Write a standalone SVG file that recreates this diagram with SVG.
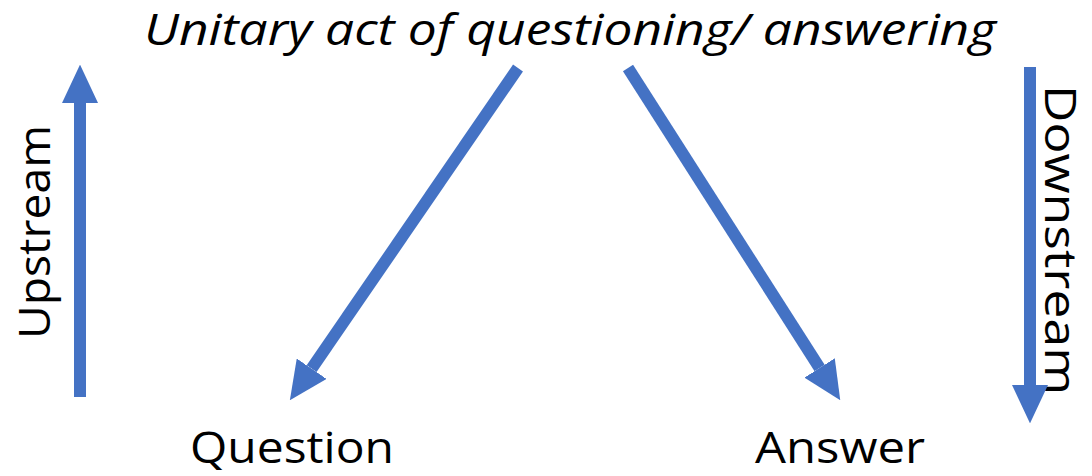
<svg xmlns="http://www.w3.org/2000/svg" width="1092" height="476" viewBox="0 0 1092 476">
<style>
.t{font-family:"Open Sans","Liberation Sans",sans-serif;fill:#000;}
.c{stroke:#4472C4;stroke-width:12;fill:none;marker-end:url(#ah);}
</style>
<defs>
<marker id="ah" markerUnits="strokeWidth" markerWidth="3.2" markerHeight="3" viewBox="0 0 32 30" refX="0" refY="15" orient="auto">
<path d="M0,0 L32,15 L0,30 z" fill="#4472C4"/>
</marker>
</defs>
<rect width="1092" height="476" fill="#fff"/>
<g id="title"><text class="t" x="570" y="45" font-size="44" font-style="italic" text-anchor="middle" textLength="852" lengthAdjust="spacingAndGlyphs">Unitary act of questioning/ answering</text></g>
<g id="question"><text class="t" x="292" y="463" font-size="43" text-anchor="middle" textLength="204" lengthAdjust="spacingAndGlyphs">Question</text></g>
<g id="answer"><text class="t" x="840" y="463" font-size="43" text-anchor="middle" textLength="170" lengthAdjust="spacingAndGlyphs">Answer</text></g>
<g id="upstream"><text class="t" transform="translate(50,232) rotate(-90)" font-size="44" text-anchor="middle" textLength="214" lengthAdjust="spacingAndGlyphs">Upstream</text></g>
<g id="downstream"><text class="t" transform="translate(1045,240) rotate(90)" font-size="43" text-anchor="middle" textLength="310" lengthAdjust="spacingAndGlyphs">Downstream</text></g>
<g id="connectors">
<line class="c" x1="80" y1="397" x2="80" y2="103"/>
<line class="c" x1="1030" y1="67" x2="1030" y2="385"/>
<line class="c" x1="518" y1="68" x2="311.6" y2="368.7"/>
<line class="c" x1="628" y1="68" x2="819.6" y2="368"/>
</g>
</svg>
